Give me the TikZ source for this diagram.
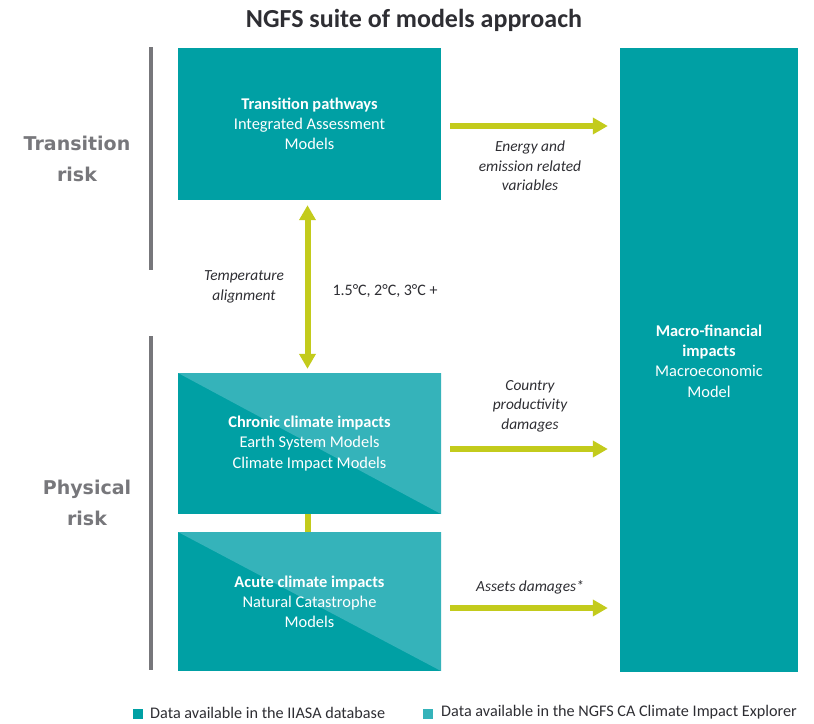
\documentclass[tikz,border=0pt]{standalone}
\usepackage{fontspec}
\setmainfont{Carlito}
\newfontfamily\riskfont{DejaVu Sans}
\usetikzlibrary{arrows.meta}
\definecolor{tealdark}{HTML}{00A0A4}
\definecolor{teallight}{HTML}{35B3BA}
\definecolor{lime}{HTML}{C3CB1C}
\definecolor{greyline}{HTML}{77777B}
\definecolor{labeltext}{HTML}{2E2E33}
\tikzset{
  box/.style={fill=tealdark, draw=none, minimum width=263pt, text=white, align=center,
    font=\fontsize{16.4}{20.2}\selectfont, inner sep=0pt},
  splitbox/.style={box, path picture={\fill[teallight] (path picture bounding box.north west) -- (path picture bounding box.north east) -- (path picture bounding box.south east) -- cycle;}},
  flow/.style={draw=lime, line width=6pt, -{Triangle[width=16pt,length=15pt]}},
  flowboth/.style={draw=lime, line width=6pt, {Triangle[width=16pt,length=15pt]}-{Triangle[width=16pt,length=15pt]}},
  link/.style={draw=lime, line width=6pt},
  lbl/.style={text=labeltext, align=center, font=\fontsize{15.4}{19.5}\selectfont\itshape, inner sep=0pt},
  risk/.style={text=greyline, align=center, font=\riskfont\bfseries\fontsize{19}{31}\selectfont, inner sep=0pt},
  bracket/.style={draw=greyline, line width=4pt},
  legendsq/.style={minimum size=10pt, inner sep=0pt, draw=none},
  legendtxt/.style={text=labeltext, anchor=west, font=\fontsize{16.2}{18}\selectfont, inner sep=0pt}
}
\begin{document}
\begin{tikzpicture}[x=1pt,y=1pt]
\useasboundingbox (0,0) rectangle (814,-723);
% title
\node[font=\bfseries\fontsize{26}{28}\selectfont, text=labeltext] (title) at (414,-20) {NGFS suite of models approach};
% risk brackets
\draw[bracket] (151,-47) coordinate (b1t) -- (151,-270) coordinate (b1b);
\draw[bracket] (151,-336) coordinate (b2t) -- (151,-670) coordinate (b2b);
\node[risk] (trisk) at (77,-159) {Transition\\risk};
\node[risk] (prisk) at (87,-503) {Physical\\risk};
% boxes
\node[box, minimum height=152pt] (trans) at (309.5,-124) {\textbf{Transition pathways}\\Integrated Assessment\\Models};
\node[splitbox, minimum height=141pt] (chronic) at (309.5,-443.5) {\textbf{Chronic climate impacts}\\Earth System Models\\Climate Impact Models};
\node[splitbox, minimum height=139pt] (acute) at (309.5,-601.5) {\textbf{Acute climate impacts}\\Natural Catastrophe\\Models};
\node[box, minimum width=178pt, minimum height=624pt] (macro) at (709,-360) {};
\node[text=white, align=center, font=\fontsize{16.4}{20.2}\selectfont, inner sep=0pt] (macrotxt) at (709,-361) {\textbf{Macro-financial}\\\textbf{impacts}\\Macroeconomic\\Model};
% connectors
\draw[flowboth, shorten <=5pt, shorten >=4pt] ([xshift=-2pt]trans.south) -- ([xshift=-2pt]chronic.north);
\draw[link] ([xshift=-1.5pt]chronic.south) -- ([xshift=-1.5pt]acute.north);
\draw[flow, shorten <=9pt, shorten >=12pt] ([yshift=-2pt]trans.east) -- ([yshift=-2pt]trans.east -| macro.west);
\draw[flow, shorten <=9pt, shorten >=12pt] ([yshift=-5.5pt]chronic.east) -- ([yshift=-5.5pt]chronic.east -| macro.west);
\draw[flow, shorten <=9pt, shorten >=12pt] ([yshift=-6.5pt]acute.east) -- ([yshift=-6.5pt]acute.east -| macro.west);
% labels
\node[lbl] (l1) at (530,-166) {Energy and\\emission related\\variables};
\node[lbl] (l2) at (530,-406) {Country\\productivity\\damages};
\node[lbl] (l3) at (530,-587) {Assets damages*};
\node[lbl] (l4) at (244,-287) {Temperature\\alignment};
\node[text=labeltext, font=\fontsize{16}{18}\selectfont, inner sep=0pt] (l5) at (385,-291) {1.5°C, 2°C, 3°C +};
% legend
\node[legendsq, fill=tealdark] (sq1) at (138,-714) {};
\node[legendtxt] (lg1) at (150,-712.5) {Data available in the IIASA database};
\node[legendsq, fill=teallight] (sq2) at (428,-714) {};
\node[legendtxt] (lg2) at (441,-712.5) {Data available in the NGFS CA Climate Impact Explorer};
\end{tikzpicture}
\end{document}
